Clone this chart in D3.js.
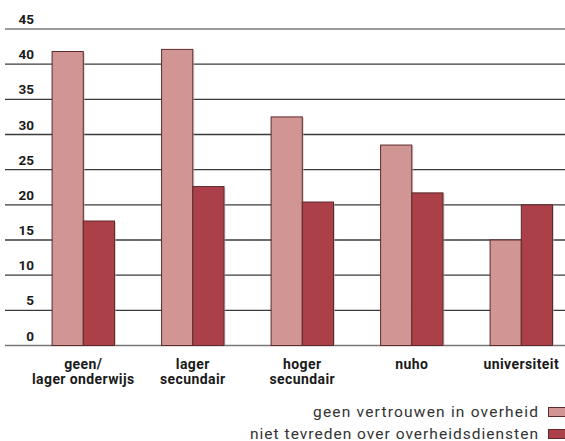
<!DOCTYPE html>
<html><head><meta charset="utf-8">
<script src="https://cdn.jsdelivr.net/npm/d3@7"></script>
<style>body{margin:0;background:#fff;} svg{display:block;}</style>
</head><body>
<svg id="c" width="565" height="441"></svg>
<script>
const categories = [["geen/","lager onderwijs"],["lager","secundair"],["hoger","secundair"],["nuho"],["universiteit"]];
const seriesNames = ["geen vertrouwen in overheid","niet tevreden over overheidsdiensten"];
const vertrouwen = [41.8, 42.1, 32.5, 28.5, 15.0];
const tevreden = [17.7, 22.6, 20.4, 21.7, 20.0];
const yTicks = [0,5,10,15,20,25,30,35,40,45];
const colors = ["#d19593","#ab4049"];

const svg = d3.select("#c");
const y = d3.scaleLinear().domain([0,45]).range([345.5,29]);
const x = d3.scaleBand().domain(d3.range(categories.length)).range([28.55,576.05]).paddingInner(0.43).paddingOuter(0.215);
const xs = d3.scaleBand().domain([0,1]).range([0,x.bandwidth()]);

// gridlines
svg.append("g").selectAll("line").data(yTicks).join("line")
  .attr("x1",5).attr("x2",565)
  .attr("y1",d=>y(d)).attr("y2",d=>y(d))
  .attr("stroke",d=>d===45?"#9a9a9a":(d===0?"#777":"#3a3a3a"))
  .attr("stroke-width",d=>d===45?2:1.3);

// tick labels
svg.append("g").selectAll("text").data(yTicks).join("text")
  .attr("x",34).attr("y",d=>y(d)-5)
  .attr("text-anchor","end")
  .attr("font-family","Roboto, 'Liberation Sans', sans-serif")
  .attr("font-weight","bold").attr("font-size",13.5).attr("fill","#1a1a1a")
  .text(d=>d);

const series = [vertrouwen, tevreden];
const g = svg.append("g");
series.forEach((vals,si)=>{
  g.append("g").selectAll("rect").data(vals).join("rect")
    .attr("x",(d,i)=>x(i)+xs(si)+1.5).attr("y",d=>y(d)+1)
    .attr("width",xs.bandwidth()).attr("height",d=>y(0)-y(d)-1)
    .attr("fill","#bbb").attr("opacity",0.6);
});
series.forEach((vals,si)=>{
  g.append("g").selectAll("rect").data(vals).join("rect")
    .attr("x",(d,i)=>x(i)+xs(si)).attr("y",d=>y(d))
    .attr("width",xs.bandwidth()).attr("height",d=>y(0)-y(d))
    .attr("fill",colors[si]).attr("stroke","#5e2a2c").attr("stroke-width",1);
});

// category labels
const cl = svg.append("g").selectAll("text").data(categories).join("text")
  .attr("x",(d,i)=>x(i)+x.bandwidth()/2).attr("y",369)
  .attr("text-anchor","middle")
  .attr("font-family","Roboto, 'Liberation Sans', sans-serif")
  .attr("font-weight","bold").attr("font-size",14).attr("letter-spacing",0.4).attr("fill","#1a1a1a");
cl.each(function(d,i){
  d3.select(this).selectAll("tspan").data(d).join("tspan")
    .attr("x",x(i)+x.bandwidth()/2).attr("dy",(t,j)=>j===0?0:14.5).text(t=>t);
});

// legend
const legendWidths = [225, 288];
const lg = svg.append("g").selectAll("g").data(seriesNames).join("g")
  .attr("transform",(d,i)=>`translate(0,${i*22})`);
lg.append("text").attr("x",(d,i)=>538-legendWidths[i]).attr("y",417)
  .attr("font-family","Roboto, 'Open Sans', sans-serif").attr("font-size",15.5).attr("fill","#333")
  .attr("textLength",(d,i)=>legendWidths[i]).attr("lengthAdjust","spacing")
  .text(d=>d);
lg.append("rect").attr("x",548.5).attr("y",407.5).attr("width",17).attr("height",9)
  .attr("fill",(d,i)=>colors[i]).attr("stroke","#5e2a2c").attr("stroke-width",1);
</script>
</body></html>
